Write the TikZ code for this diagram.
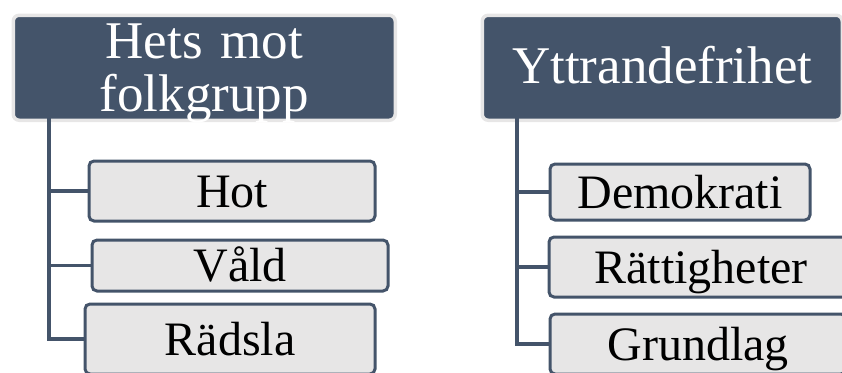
\documentclass[tikz,border=0pt]{standalone}
\usepackage{fontspec}
\setmainfont{Liberation Serif}
\usepackage{xcolor}
\usepackage{tikz}

\definecolor{slate}{HTML}{44546A}
\definecolor{lgray}{HTML}{E7E6E6}

\begin{document}
\begin{tikzpicture}[x=1pt, y=-1pt,
  head/.style={rectangle, rounded corners=6pt, fill=slate, draw=lgray, line width=3.5pt,
    inner sep=0pt, anchor=north west, align=center, text=white,
    font=\fontsize{53}{53}\selectfont},
  item/.style={rectangle, rounded corners=5pt, fill=lgray, draw=slate, line width=3pt,
    inner sep=0pt, text height=32pt, text depth=0pt, font=\fontsize{48}{48}\selectfont},
  link/.style={draw=slate, line width=3.5pt}]
\useasboundingbox (0,0) rectangle (842,372);
\clip (0,0) rectangle (842,372);

% headers
\node[head, text width=382pt, text height=43.5pt, text depth=61.5pt] (hets) at (11.5,13.5) {Hets mot\\folkgrupp};
\node[head, text width=360pt, text height=68.5pt, text depth=36.5pt] (ytf) at (480.5,13.5) {Yttrandefrihet};

% left column
\node[item, minimum width=286pt, minimum height=60pt] (hot) at (232,191) {Hot};
\node[item, minimum width=296pt, minimum height=51pt] (vald) at (240,265.5) {Våld};
\node[item, minimum width=290pt, minimum height=70pt] (radsla) at (230,339) {Rädsla};

% right column
\node[item, minimum width=260pt, minimum height=56pt] (demo) at (680,192) {Demokrati};
\node[item, minimum width=304pt, minimum height=60pt] (ratt) at (701,267) {Rättigheter};
\node[item, minimum width=296pt, minimum height=60pt] (grund) at (698,344) {Grundlag};

\coordinate (hs) at (49,118);
\coordinate (ys) at (517,118);

\draw[link] (hs) |- (hot.west);
\draw[link] (hs) |- (vald.west);
\draw[link] (hs) |- (radsla.west);
\draw[link] (ys) |- (demo.west);
\draw[link] (ys) |- (ratt.west);
\draw[link] (ys) |- (grund.west);
\end{tikzpicture}
\end{document}
